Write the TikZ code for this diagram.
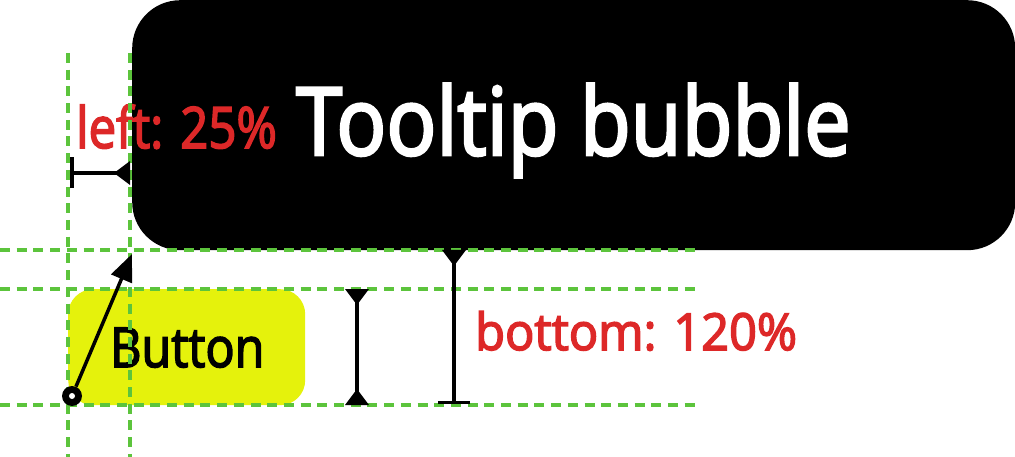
\documentclass[tikz,border=0pt]{standalone}
\usepackage{fontspec}
\setmainfont{Open Sans}
\newfontfamily\medfont{Open Sans}[FakeBold=3]
\usetikzlibrary{arrows.meta}
\definecolor{gd}{HTML}{5CC43C}
\definecolor{rd}{HTML}{DD2828}
\definecolor{yb}{HTML}{E5F20C}
\begin{document}
\begin{tikzpicture}[x=1pt,y=-1pt,
  guide/.style={gd, line width=3.8pt, dash pattern=on 10pt off 6.7pt},
  meas/.style={line width=3.5pt, black},
  tri/.tip={Triangle[reversed, length=16pt, width=23pt]},
  lbl/.style={anchor=base west, inner sep=0pt}]
\useasboundingbox (0,0) rectangle (1015,457);
% tooltip bubble
\node[fill=black, rounded corners=48pt, minimum width=883pt, minimum height=250pt,
      anchor=north west, inner sep=0pt] (bubble) at (132,0) {};
\node[lbl, white, font=\medfont\fontsize{94}{94}\selectfont] (tt) at (296,155) {\scalebox{0.882}[1]{Tooltip bubble}};
% button
\node[fill=yb, rounded corners=25pt, minimum width=237pt, minimum height=116pt,
      anchor=north west, inner sep=0pt] (btn) at (68,289) {};
\node[lbl, font=\medfont\fontsize{55}{55}\selectfont] (btxt) at (110,367) {\scalebox{0.88}[1]{Button}};
% labels
\node[lbl, rd, font=\medfont\fontsize{57}{57}\selectfont] (lleft) at (76,148) {\scalebox{0.862}[1]{left: 25\%}};
\node[lbl, rd, font=\medfont\fontsize{51}{51}\selectfont] (lbot) at (475,350) {\scalebox{0.955}[1]{bottom: 120\%}};
% guides
\draw[guide] (0,250) -- (695,250);
\draw[guide] (0,289) -- (695,289);
\draw[guide] (0,405) -- (695,405);
\draw[guide] (68,53) -- (68,457);
\draw[guide] (130,53) -- (130,457);
% measures
\coordinate (l1) at (70,173);
\coordinate (l2) at (130,173);
\draw[meas, {Bar[width=31pt]}-{tri}] (l1) -- (l2);
\coordinate (m1a) at (357,289);
\coordinate (m1b) at (357,405);
\draw[meas, {tri}-{tri}] (m1a) -- (m1b);
\coordinate (m2a) at (454,250);
\coordinate (m2b) at (454,404);
\draw[meas, {tri}-{Bar[width=32pt]}] (m2a) -- (m2b);
% anchor arrow
\node[circle, fill=black, minimum size=20pt, inner sep=0pt] (dot) at (72,396) {};
\fill[white] (dot.center) circle (3pt);
\coordinate (tipc) at (132,254);
\draw[meas, -{Triangle[length=27pt, width=22pt]}] (dot) -- (tipc);
\end{tikzpicture}
\end{document}
